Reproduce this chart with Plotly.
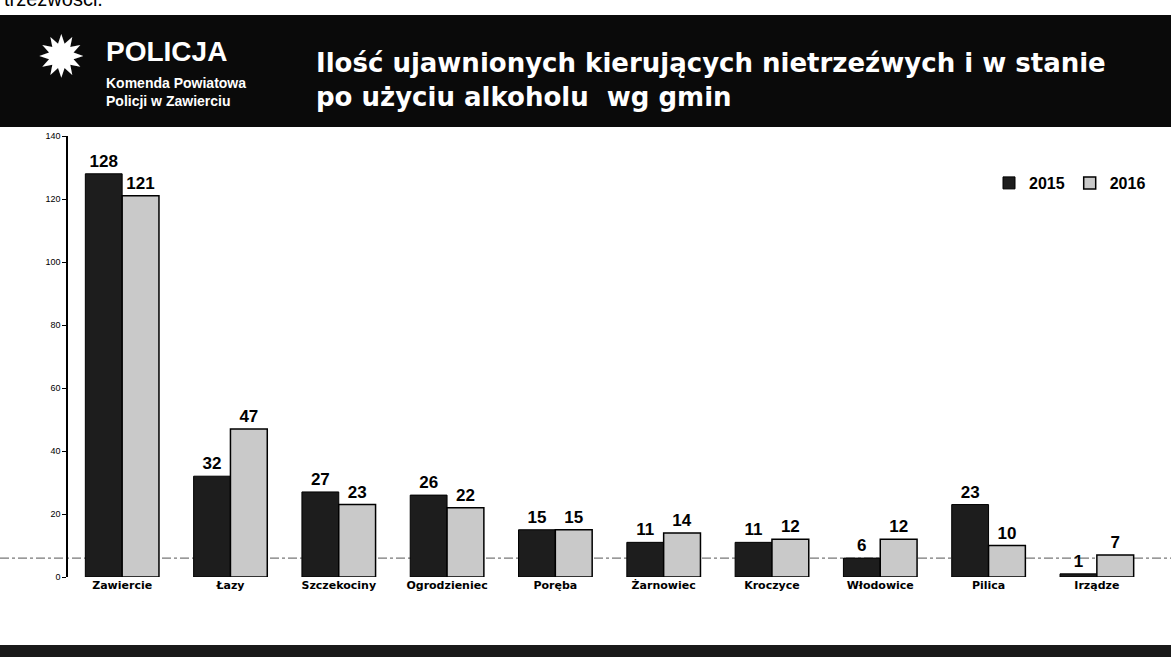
import plotly.graph_objects as go

categories = ["Zawiercie", "Łazy", "Szczekociny", "Ogrodzieniec", "Poręba",
              "Żarnowiec", "Kroczyce", "Włodowice", "Pilica", "Irządze"]
values_2015 = [128, 32, 27, 26, 15, 11, 11, 6, 23, 1]
values_2016 = [121, 47, 23, 22, 15, 14, 12, 12, 10, 7]
series_names = ["2015", "2016"]
y_ticks = [0, 20, 40, 60, 80, 100, 120, 140]

W, H = 1171, 657
ML, MR, MT, MB = 68, 20, 136, 80
PW, PH = W - ML - MR, H - MT - MB


def px(x):
    return (x - ML) / PW


def py(y):
    return (H - MB - y) / PH


fig = go.Figure()
fig.add_trace(go.Bar(
    name="<b>" + series_names[0] + "</b>", x=categories, y=values_2015,
    marker=dict(color="#1d1d1d", line=dict(color="#000000", width=1)),
    text=values_2015, texttemplate="<b>%{text}</b>", textposition="outside",
    textfont=dict(family="Liberation Sans", size=17, color="#000"),
    cliponaxis=False,
))
fig.add_trace(go.Bar(
    name="<b>" + series_names[1] + "</b>", x=categories, y=values_2016,
    marker=dict(color="#c9c9c9", line=dict(color="#000000", width=1.5)),
    text=values_2016, texttemplate="<b>%{text}</b>", textposition="outside",
    textfont=dict(family="Liberation Sans", size=17, color="#000"),
    cliponaxis=False,
))

shapes = [
    # header band
    dict(type="rect", xref="paper", yref="paper", x0=px(0), x1=px(W), y0=py(127), y1=py(15),
         fillcolor="#0a0a0a", line=dict(width=0), layer="below"),
    # footer band
    dict(type="rect", xref="paper", yref="paper", x0=px(0), x1=px(W), y0=py(H), y1=py(645),
         fillcolor="#1a1a1a", line=dict(width=0), layer="below"),
    # dash-dot line
    dict(type="line", xref="paper", yref="y", x0=px(0), x1=px(W), y0=6, y1=6,
         line=dict(color="#555", width=1, dash="dashdot"), layer="below"),
]

annotations = [
    dict(text="trzeźwości.", x=px(2), y=py(-1), xref="paper", yref="paper", xanchor="left",
         yanchor="middle", showarrow=False, font=dict(family="Liberation Sans", size=20, color="#000")),
    dict(text="✹", x=px(61), y=py(57), xref="paper", yref="paper", xanchor="center", yanchor="middle",
         showarrow=False, font=dict(family="DejaVu Sans", size=58, color="#fff")),
    dict(text="<b>POLICJA</b>", x=px(104), y=py(51), xref="paper", yref="paper", xanchor="left",
         yanchor="middle", showarrow=False, font=dict(family="Liberation Sans", size=28, color="#fff")),
    dict(text="<b>Komenda Powiatowa<br>Policji w Zawierciu</b>", x=px(104), y=py(92), xref="paper",
         yref="paper", xanchor="left", yanchor="middle", align="left", showarrow=False,
         font=dict(family="Liberation Sans", size=14, color="#fff")),
    dict(text="<b>Ilość ujawnionych kierujących nietrzeźwych i w stanie<br>po użyciu alkoholu  wg gmin</b>",
         x=px(314), y=py(80), xref="paper", yref="paper", xanchor="left", yanchor="middle",
         align="left", showarrow=False,
         font=dict(family="DejaVu Sans", size=26, color="#fff")),
]

fig.update_layout(
    width=W, height=H, autosize=False,
    margin=dict(l=ML, r=MR, t=MT, b=MB),
    paper_bgcolor="#ffffff", plot_bgcolor="#ffffff",
    barmode="group", bargap=0.32, bargroupgap=0.0,
    showlegend=True,
    legend=dict(orientation="h", x=1.0, y=py(183), xanchor="right", yanchor="middle",
                font=dict(family="Liberation Sans", size=16, color="#000"),
                bgcolor="rgba(0,0,0,0)", itemwidth=30, traceorder="normal"),
    shapes=shapes, annotations=annotations,
    xaxis=dict(showline=False, showgrid=False, ticks="", zeroline=False,
               tickprefix="<b>", ticksuffix="</b>",
               tickfont=dict(family="DejaVu Sans", size=11, color="#000")),
    yaxis=dict(range=[0, 140], tickvals=y_ticks, showgrid=False, zeroline=False,
               showline=True, linecolor="#000", linewidth=1.5, ticks="outside", ticklen=4,
               tickcolor="#000", tickprefix="<b>", ticksuffix="</b>",
               tickfont=dict(family="Liberation Sans", size=9, color="#000")),
    font=dict(family="Liberation Sans"),
)

fig.write_html(
    "out.html",
    config={"responsive": False, "displayModeBar": False},
    default_width="1171px", default_height="657px",
    post_script="document.body.style.margin='0';document.body.style.overflow='hidden';",
)
